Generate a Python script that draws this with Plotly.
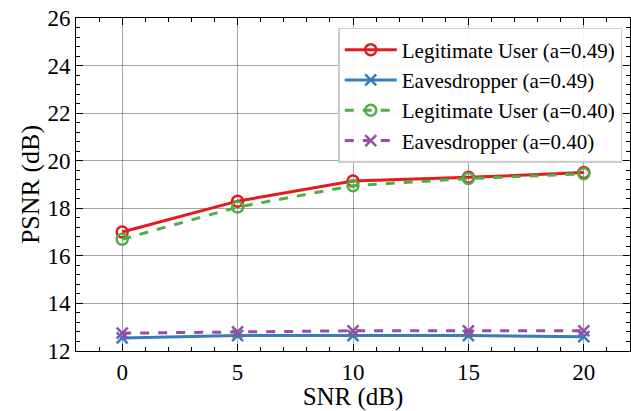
import plotly.graph_objects as go

snr = [0, 5, 10, 15, 20]
legit_049 = [17.0, 18.3, 19.15, 19.3, 19.5]
eaves_049 = [12.55, 12.65, 12.65, 12.65, 12.6]
legit_040 = [16.7, 18.05, 18.95, 19.25, 19.45]
eaves_040 = [12.75, 12.8, 12.85, 12.85, 12.85]

series = [
    ("Legitimate User (a=0.49)", legit_049, "#e41a1c", "solid", "circle-open"),
    ("Eavesdropper (a=0.49)", eaves_049, "#377eb8", "solid", "x-thin-open"),
    ("Legitimate User (a=0.40)", legit_040, "#4daf4a", "dash", "circle-open"),
    ("Eavesdropper (a=0.40)", eaves_040, "#984ea3", "dash", "x-thin-open"),
]

fig = go.Figure()
for i, (name, ys, color, dash, sym) in enumerate(series):
    fig.add_trace(go.Scatter(
        x=snr, y=ys, name=name, mode="lines+markers",
        line=dict(color=color, width=3, dash=dash),
        marker=dict(symbol=sym, size=11, color=color, line=dict(color=color, width=2.5)),
    ))

font = "Liberation Serif"
axis_common = dict(
    showline=True, linecolor="black", linewidth=1, mirror="ticks",
    ticks="inside", ticklen=7, tickwidth=1, tickcolor="black",
    showgrid=True, gridcolor="rgba(0,0,0,0.35)", gridwidth=1,
    zeroline=False, tickfont=dict(family=font, size=23, color="black"),
)
fig.update_xaxes(
    range=[-2, 22], tickvals=[0, 5, 10, 15, 20],
    title=dict(text="SNR (dB)", font=dict(family=font, size=25, color="black"), standoff=3),
    minor=dict(ticks="inside", dtick=1, ticklen=4, tickcolor="black", showgrid=False),
    **axis_common,
)
fig.update_yaxes(
    range=[12, 26], dtick=2,
    title=dict(text="PSNR (dB)", font=dict(family=font, size=26, color="black"), standoff=0),
    minor=dict(ticks="inside", dtick=0.4, ticklen=4, tickcolor="black", showgrid=False),
    **axis_common,
)
fig.update_layout(
    width=631, height=411,
    margin=dict(l=76, r=1, t=18, b=60),
    paper_bgcolor="white", plot_bgcolor="white",
    font=dict(family=font, color="black"),
    showlegend=True,
    legend=dict(
        x=0.986, y=0.97, xanchor="right", yanchor="top",
        bgcolor="rgba(255,255,255,0.9)", bordercolor="#cccccc", borderwidth=1.5,
        font=dict(family=font, size=21, color="black"),
        itemwidth=52,
    ),
)
fig.write_html("out.html", config={"displayModeBar": False},
               post_script="document.body.style.margin='0';document.body.style.overflow='hidden';")
